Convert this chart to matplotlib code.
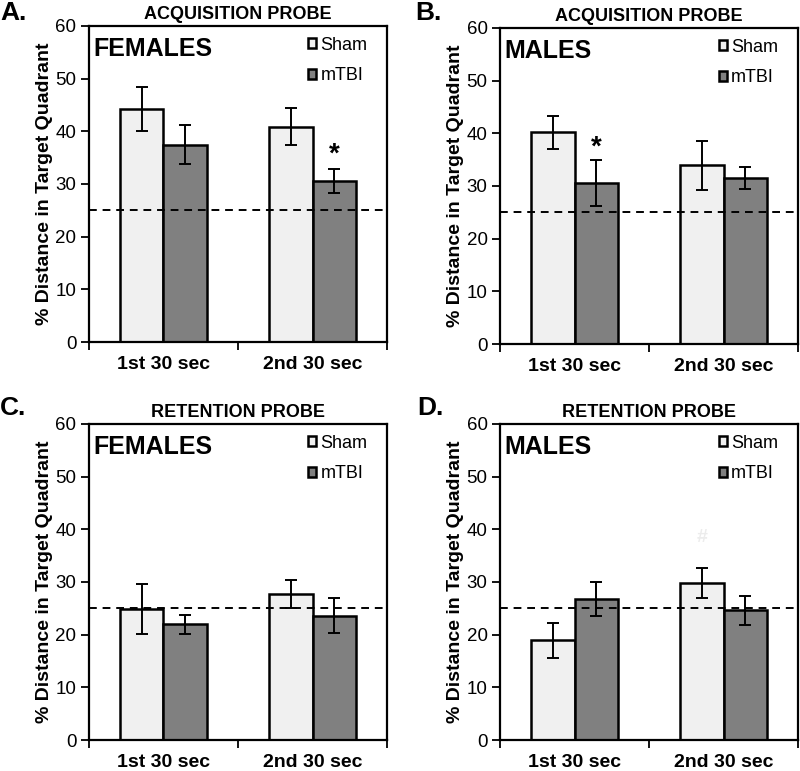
import matplotlib
matplotlib.use("Agg")
import matplotlib.pyplot as plt
import numpy as np

plt.rcParams["font.family"] = ["Liberation Sans", "DejaVu Sans"]

categories = ["1st 30 sec", "2nd 30 sec"]
groups = ["Sham", "mTBI"]

# panel A: acquisition probe, females
a_sham = [44.2, 40.9]
a_sham_err = [4.2, 3.5]
a_tbi = [37.4, 30.6]
a_tbi_err = [3.7, 2.3]

# panel B: acquisition probe, males
b_sham = [40.2, 33.9]
b_sham_err = [3.1, 4.6]
b_tbi = [30.6, 31.5]
b_tbi_err = [4.4, 2.1]

# panel C: retention probe, females
c_sham = [24.9, 27.7]
c_sham_err = [4.7, 2.7]
c_tbi = [22.0, 23.6]
c_tbi_err = [1.8, 3.3]

# panel D: retention probe, males
d_sham = [18.9, 29.8]
d_sham_err = [3.4, 2.8]
d_tbi = [26.7, 24.6]
d_tbi_err = [3.2, 2.8]

chance = 25

panels = [
    ("A.", "ACQUISITION PROBE", "FEMALES", a_sham, a_sham_err, a_tbi, a_tbi_err,
     [0.111, 0.5564, 0.373, 0.41], (0.0, 0.983)),
    ("B.", "ACQUISITION PROBE", "MALES", b_sham, b_sham_err, b_tbi, b_tbi_err,
     [0.625, 0.5538, 0.3725, 0.41], (0.519, 0.983)),
    ("C.", "RETENTION PROBE", "FEMALES", c_sham, c_sham_err, c_tbi, c_tbi_err,
     [0.111, 0.0402, 0.373, 0.41], (0.0, 0.471)),
    ("D.", "RETENTION PROBE", "MALES", d_sham, d_sham_err, d_tbi, d_tbi_err,
     [0.625, 0.0402, 0.3725, 0.41], (0.521, 0.471)),
]

# significance marks: (panel index, category index, group index, y, text, colour)
marks = [(0, 1, 1, 35.6, "*", "black"), (1, 0, 1, 37.2, "*", "black"),
         (3, 1, 0, 38.5, "#", "#ececec")]

fig = plt.figure(figsize=(8, 7.71), dpi=100)
axes = []
w = 0.29
x = np.arange(len(categories))
for letter, title, sex, sham, sham_err, tbi, tbi_err, pos, lpos in panels:
    ax = fig.add_axes(pos)
    axes.append(ax)
    ekw = dict(elinewidth=1.4, capthick=1.4, ecolor="black")
    ax.bar(x - w / 2, sham, w, yerr=sham_err, capsize=4, color="#f0f0f0",
           edgecolor="black", linewidth=1.8, label=groups[0], error_kw=ekw, zorder=2)
    ax.bar(x + w / 2, tbi, w, yerr=tbi_err, capsize=4, color="#808080",
           edgecolor="black", linewidth=1.8, label=groups[1], error_kw=ekw, zorder=2)
    ax.axhline(chance, color="black", ls=(0, (4, 3)), lw=1.4, zorder=3)
    ax.set_xlim(-0.5, 1.5)
    ax.set_ylim(0, 60)
    ax.set_yticks(range(0, 61, 10))
    ax.set_xticks(x)
    ax.set_xticklabels(categories, fontsize=14, fontweight="bold")
    ax.set_xticks([-0.5, 0.5, 1.5], minor=True)
    ax.tick_params(axis="x", which="major", length=0, pad=10)
    ax.tick_params(axis="x", which="minor", length=6, width=1.3, direction="out")
    ax.tick_params(axis="y", length=6, width=1.3, labelsize=13.5, pad=3)
    for s in ax.spines.values():
        s.set_linewidth(1.6)
    ax.set_ylabel("% Distance in Target Quadrant", fontsize=14, fontweight="bold", labelpad=2)
    ax.set_title(title, fontsize=13, fontweight="bold", pad=5)
    ax.text(0.015, 0.965, sex, transform=ax.transAxes, fontsize=18, fontweight="bold",
            va="top", ha="left")
    fig.text(lpos[0], lpos[1], letter, fontsize=19, fontweight="bold", va="center", ha="left")
    ax.legend(loc="upper right", frameon=False, fontsize=13, handlelength=0.45,
              handleheight=0.45, handletextpad=0.25, labelspacing=0.75,
              borderaxespad=0.2, bbox_to_anchor=(0.97, 1.0))

for pi, ci, gi, y, t, col in marks:
    xx = x[ci] + (w / 2 if gi == 1 else -w / 2)
    axes[pi].text(xx, y, t, ha="center", va="center",
                  fontsize=20 if t == "*" else 14, fontweight="bold", color=col)

fig.savefig("out.png", dpi=100)
